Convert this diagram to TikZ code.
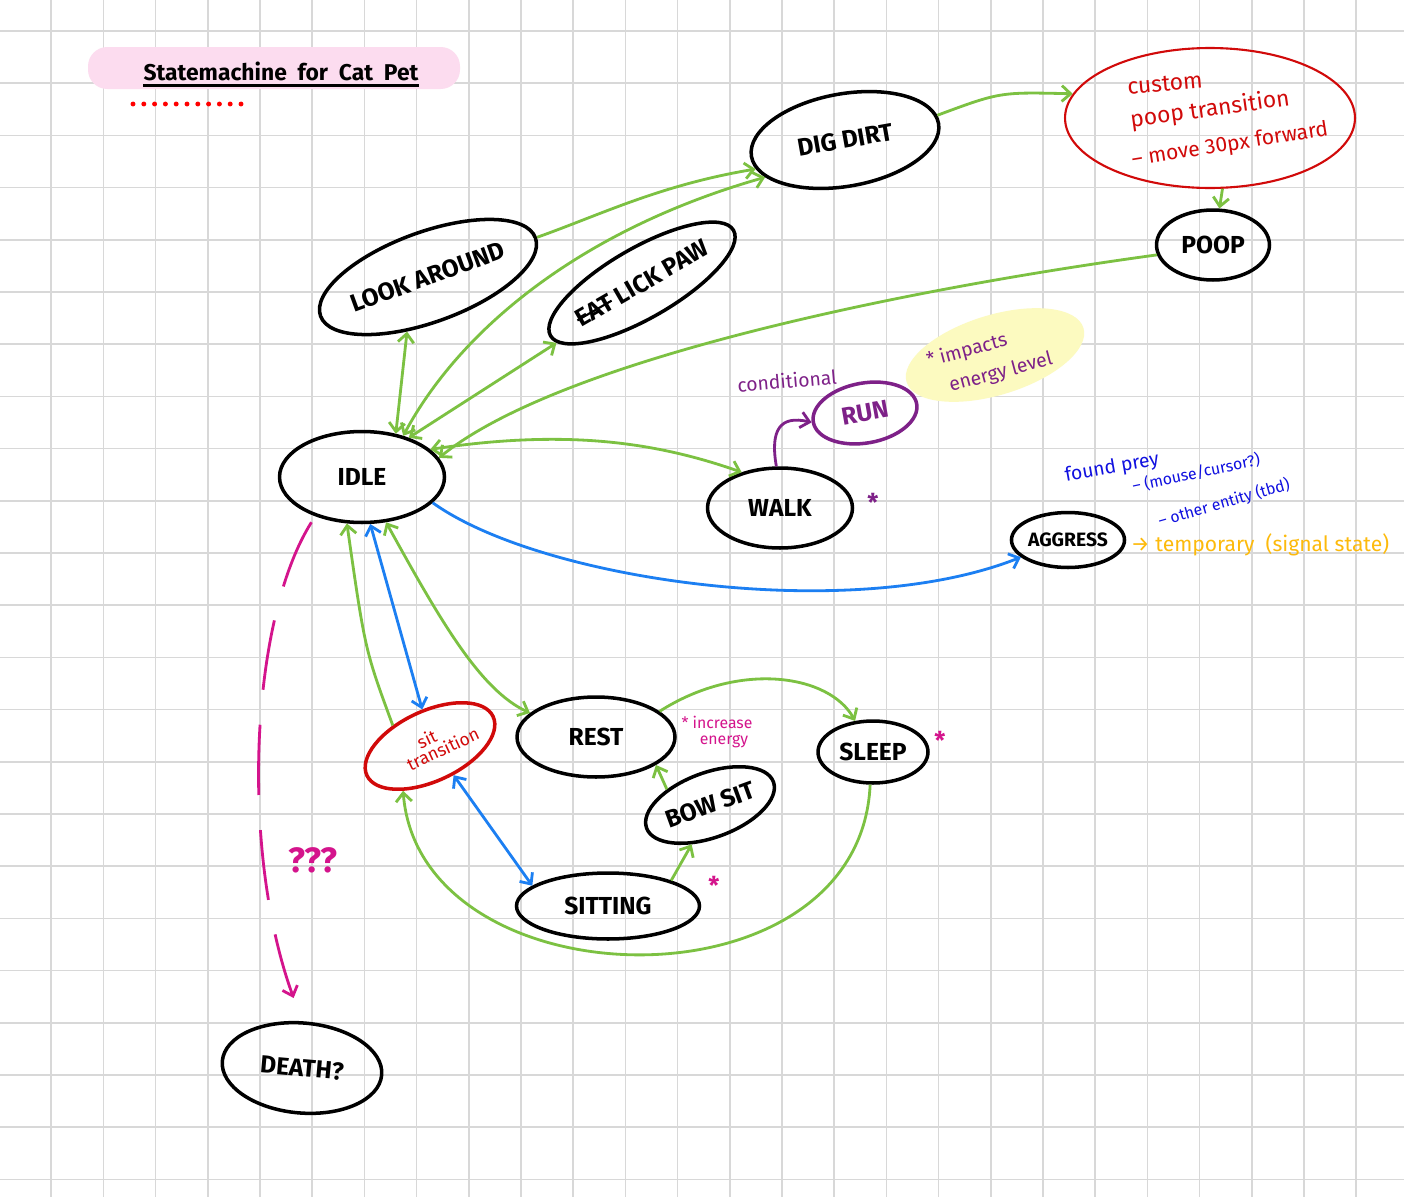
\documentclass[tikz,border=0pt]{standalone}
\usepackage{fontspec}
\setmainfont{Fira Sans}
\usetikzlibrary{arrows.meta,shapes.geometric}

\definecolor{gridgray}{HTML}{D8D8D8}
\definecolor{lgreen}{HTML}{7CC142}
\definecolor{lblue}{HTML}{1C7FF2}
\definecolor{dred}{HTML}{D10A0A}
\definecolor{dpurple}{HTML}{7E2188}
\definecolor{mag}{HTML}{D4148C}
\definecolor{hlyellow}{HTML}{FCFAC0}
\definecolor{titlepink}{HTML}{FCDCEF}
\definecolor{ink}{HTML}{1010E0}
\definecolor{amber}{HTML}{FDBA0C}

\newcommand{\strikeword}[1]{\setbox0\hbox{#1}\rlap{\rule[0.3em]{\wd0}{1.2pt}}\box0\relax}

\tikzset{
  state/.style={draw, ellipse, line width=2pt, inner sep=0pt, font=\fontsize{14}{16}\selectfont\bfseries},
  green line/.style={lgreen, line width=1.6pt},
  blue line/.style={lblue, line width=1.6pt},
  scribble/.style={inner sep=0pt, font=\fontsize{10}{12}\selectfont},
}

\begin{document}
\begin{tikzpicture}[x=0.02cm, y=-0.02cm, >={Straight Barb[length=5pt,width=9pt]}]
  \useasboundingbox (0,0) rectangle (1404,1197);
  \fill[white] (0,0) rectangle (1404,1197);

  % Grid
  \foreach \i in {0,...,26}
    \draw[gridgray, line width=1pt] ({52.2*\i-1},0) -- ({52.2*\i-1},1197);
  \foreach \j in {0,...,22}
    \draw[gridgray, line width=1pt] (0,{31+52.2*\j}) -- (1404,{31+52.2*\j});

  % Title
  \fill[titlepink, rounded corners=11pt] (88,47) rectangle (460,89);
  \node[inner sep=0pt, anchor=base, font=\fontsize{13}{15}\selectfont\bfseries] (title) at (281,80) {Statemachine ~for~ Cat ~Pet};
  \draw[line width=1.8pt] ([yshift=-3pt]title.base west) -- ([yshift=-3pt]title.base east);
  \foreach \k in {0,...,10}
    \fill[red] ({133+10.8*\k},104) circle (1.4pt);

  % Highlight
  \node[fill=hlyellow, ellipse, rotate=17, minimum width=3.7cm, minimum height=1.6cm] (hl) at (995,355) {};

  % States
  \node[state, minimum width=3.3cm, minimum height=1.82cm] (idle) at (362,477) {IDLE};
  \node[state, rotate=20, minimum width=4cm, minimum height=1.8cm] (look) at (428,277) {LOOK AROUND};
  \node[state, rotate=30, minimum width=3.8cm, minimum height=1.4cm] (eat) at (642,283) {\strikeword{EAT} LICK PAW};
  \node[state, rotate=10, minimum width=3.8cm, minimum height=1.85cm] (dig) at (845,140) {DIG DIRT};
  \node[draw=dred, ellipse, line width=1.2pt, minimum width=5.8cm, minimum height=2.8cm] (note) at (1210,118) {};
  \node[state, minimum width=2.26cm, minimum height=1.4cm] (poop) at (1213,245) {POOP};
  \node[state, draw=dpurple, text=dpurple, rotate=10, minimum width=2.1cm, minimum height=1.2cm] (run) at (865,413) {RUN};
  \node[state, minimum width=2.9cm, minimum height=1.6cm] (walk) at (780,508) {WALK};
  \node[state, minimum width=2.18cm, minimum height=1.1cm, font=\fontsize{11}{13}\selectfont\bfseries] (aggress) at (1068,540) {AGGRESS};
  \node[state, draw=dred, text=dred, rotate=25, minimum width=2.5cm, minimum height=1.4cm, font=\fontsize{10}{11}\selectfont, align=center] (sit) at (430,746) {sit\\[-2pt]\hspace*{1.2em}transition};
  \node[state, minimum width=3.16cm, minimum height=1.6cm] (rest) at (596,737) {REST};
  \node[state, minimum width=2.2cm, minimum height=1.24cm] (sleep) at (873,752) {SLEEP};
  \node[state, rotate=20, minimum width=2.7cm, minimum height=1.3cm] (bowsit) at (710,805) {BOW SIT};
  \node[state, minimum width=3.66cm, minimum height=1.32cm] (sitting) at (608,906) {SITTING};
  \node[state, rotate=-5, minimum width=3.2cm, minimum height=1.8cm] (death) at (302,1068) {DEATH?};

  % Notes
  \node[scribble, dred, rotate=5, font=\fontsize{13}{15}\selectfont] (custom) at (1165,84) {custom};
  \node[scribble, dred, rotate=8, font=\fontsize{13}{15}\selectfont] (pooptr) at (1210,110) {poop transition};
  \node[scribble, dred, rotate=9, font=\fontsize{12}{14}\selectfont] (move) at (1230,145) {-- move 30px forward};
  \node[scribble, dpurple, rotate=5, font=\fontsize{11}{13}\selectfont] (cond) at (787,381) {conditional};
  \node[scribble, dpurple, rotate=15, font=\fontsize{11}{13}\selectfont] (impacts) at (967,351) {* impacts};
  \node[scribble, dpurple, rotate=15, font=\fontsize{11}{13}\selectfont] (energy) at (1001,373) {energy level};
  \node[scribble, dpurple, font=\fontsize{14}{14}\selectfont\bfseries] (walkstar) at (873,502) {*};
  \node[scribble, ink, rotate=10, font=\fontsize{11}{13}\selectfont] (prey) at (1112,468) {found prey};
  \node[scribble, ink, rotate=12, font=\fontsize{9}{11}\selectfont] (mouse) at (1196,473) {-- (mouse/cursor?)};
  \node[scribble, ink, rotate=16, font=\fontsize{9}{11}\selectfont] (entity) at (1224,503) {-- other entity (tbd)};
  \node[scribble, amber, font=\fontsize{12}{14}\selectfont] (temp) at (1260,545) {→ temporary ~(signal state)};
  \node[scribble, mag, font=\fontsize{9}{10}\selectfont] (incr) at (717,722) {* increase};
  \node[scribble, mag, font=\fontsize{9}{10}\selectfont] (incr2) at (724,742) {energy};
  \node[scribble, mag, font=\fontsize{14}{14}\selectfont\bfseries] (sleepstar) at (940,740) {*};
  \node[scribble, mag, font=\fontsize{14}{14}\selectfont\bfseries] (sitstar) at (714,885) {*};
  \node[scribble, mag, font=\fontsize{20}{22}\selectfont\bfseries] (qqq) at (313,860) {???};

  % Green transitions
  \draw[green line, ->] (look.0) .. controls (600,215) and (660,185) .. (dig.188);
  \draw[green line, <->] (idle.45) .. controls (460,330) and (580,230) .. (dig.195);
  \draw[green line, ->] (dig.5) .. controls (1000,92) .. (note.170);
  \draw[green line, ->] (note.-80) -- (poop.80);
  \draw[green line, ->] (poop.190) .. controls (900,290) and (560,360) .. (idle.14);
  \draw[green line, <->] (look.229) -- (idle.52);
  \draw[green line, <->] (eat.185) -- (idle.40);
  \draw[green line, <->] (idle.22) .. controls (560,430) and (650,440) .. (walk.137);
  \draw[green line, ->] (sit.126) .. controls (365,650) .. (idle.252);
  \draw[green line, <->] (idle.-62) .. controls (440,620) and (480,690) .. (rest.160);
  \draw[green line, ->] (rest.22) .. controls (740,660) and (830,675) .. (sleep.120);
  \draw[green line, ->] (sleep.-95) .. controls (860,1015) and (420,1005) .. (sit.214);
  \draw[green line, ->] (sitting.22) -- (bowsit.225);
  \draw[green line, ->] (bowsit.140) -- (rest.-25);

  % Blue transitions
  \draw[blue line, ->] (idle.-20) .. controls (540,580) and (850,625) .. (aggress.200);
  \draw[blue line, <->] (idle.-80) -- (sit.77);
  \draw[blue line, <->] (sit.-76) -- (sitting.165);

  % Purple and magenta
  \draw[dpurple, line width=1.6pt, ->] (walk.95) .. controls (770,430) and (780,415) .. (run.180);
  \draw[mag, line width=1.6pt, dash pattern=on 40pt off 20pt, shorten <=4pt, shorten >=14pt, ->] (idle.-140) .. controls (250,620) and (240,850) .. (death.95);
\end{tikzpicture}
\end{document}
